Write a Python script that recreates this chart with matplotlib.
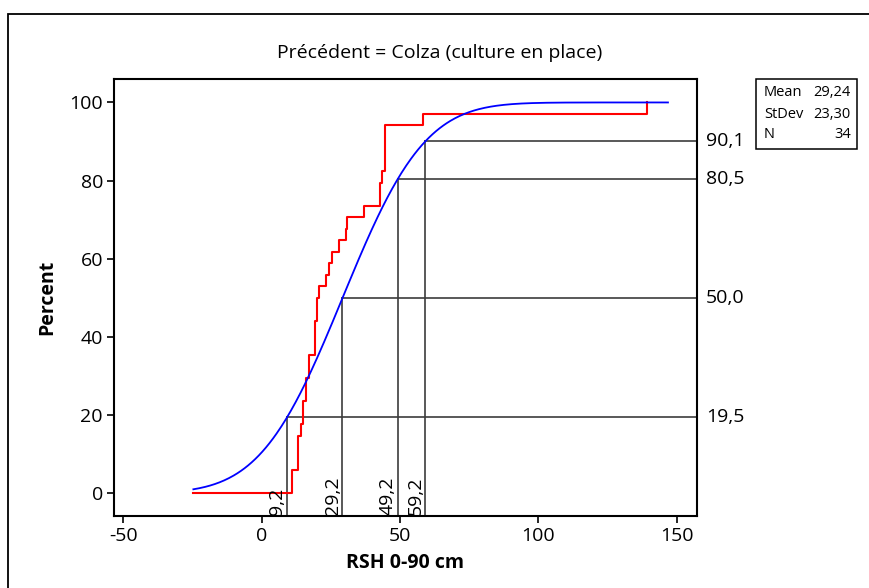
import math

import matplotlib
matplotlib.use("Agg")
import matplotlib.pyplot as plt
from matplotlib.patches import Rectangle

plt.rcParams["font.family"] = ["Open Sans", "DejaVu Sans"]
plt.rcParams["axes.unicode_minus"] = False

# Observed RSH 0-90 cm values (n = 34), sorted
rsh_values = [10.9, 10.9, 13.2, 13.2, 13.2, 14.1, 15.0, 15.0, 16.0, 16.0,
              17.0, 17.0, 19.3, 19.3, 19.3, 19.9, 19.9, 20.8, 23.1, 24.2,
              25.3, 28.1, 30.4, 30.7, 36.9, 42.9, 42.9, 43.5, 44.5, 44.5,
              44.5, 44.5, 58.3, 139.4]
mean_rsh = 29.24
stdev_rsh = 23.30
n_obs = 34

# Plotted range of the fitted curve
x_start = -24.7
x_end = 146.9

# Reference percentiles of the fitted normal
ref_x = [9.2, 29.2, 49.2, 59.2]
ref_pct = [19.5, 50.0, 80.5, 90.1]
ref_x_labels = ["9,2", "29,2", "49,2", "59,2"]
ref_pct_labels = ["19,5", "50,0", "80,5", "90,1"]

x_ticks = [-50, 0, 50, 100, 150]
y_ticks = [0, 20, 40, 60, 80, 100]
x_lim = (-53.4, 157.4)
y_lim = (-5.8, 106.0)

W, H = 870, 588
fig = plt.figure(figsize=(W / 100, H / 100), dpi=100)
ax = fig.add_axes([114 / W, 1 - 516 / H, (697 - 114) / W, (516 - 79) / H])

# empirical CDF as a step line
step_x = [x_start]
step_y = [0.0]
count = 0
for v in sorted(set(rsh_values)):
    count += rsh_values.count(v)
    step_x.append(v)
    step_y.append(100.0 * count / len(rsh_values))

# fitted normal CDF
n_pts = 400
curve_x = [x_start + (x_end - x_start) * i / (n_pts - 1) for i in range(n_pts)]
curve_y = [50.0 * (1 + math.erf((x - mean_rsh) / (stdev_rsh * math.sqrt(2))))
           for x in curve_x]

ref_color = "#3c3c3c"
for xv, pv in zip(ref_x, ref_pct):
    ax.plot([xv, xv], [y_lim[0], pv], color=ref_color, lw=1.2, zorder=1)
    ax.plot([xv, x_lim[1]], [pv, pv], color=ref_color, lw=1.2, zorder=1)

ax.step(step_x, step_y, where="post", color="#ff0000", lw=1.5, zorder=2)
ax.plot(curve_x, curve_y, color="#0000ff", lw=1.3, zorder=3)

for xv, lab in zip(ref_x, ref_x_labels):
    ax.text(xv - 0.3, y_lim[0] + 0.3, lab, rotation=90, ha="right", va="bottom",
            fontsize=14, color="black")
for pv, lab in zip(ref_pct, ref_pct_labels):
    ax.text(1.015, (pv - y_lim[0]) / (y_lim[1] - y_lim[0]), lab,
            transform=ax.transAxes, ha="left", va="center", fontsize=14)

ax.set_xlim(*x_lim)
ax.set_ylim(*y_lim)
ax.set_xticks(x_ticks)
ax.set_yticks(y_ticks)
ax.tick_params(direction="out", length=5, width=1.2, labelsize=14, pad=3,
               top=False, right=False)
for sp in ax.spines.values():
    sp.set_linewidth(1.5)

ax.set_xlabel("RSH 0-90 cm", fontsize=14, fontweight="bold", labelpad=6)
ax.set_ylabel("Percent", fontsize=14, fontweight="bold", labelpad=9)

fig.text(440 / W, 1 - 53 / H, "Précédent = Colza (culture en place)",
         ha="center", va="center", fontsize=14)

# summary box
fig.patches.append(Rectangle((756 / W, 1 - 149 / H), 101 / W, 70 / H,
                             transform=fig.transFigure, fill=False,
                             lw=1.1, edgecolor="black"))
box_rows = [("Mean", f"{mean_rsh:.2f}".replace(".", ",")),
            ("StDev", f"{stdev_rsh:.2f}".replace(".", ",")),
            ("N", str(n_obs))]
for i, (name, val) in enumerate(box_rows):
    y = 1 - (93 + 21 * i) / H
    fig.text(764 / W, y, name, ha="left", va="center", fontsize=10.5)
    fig.text(851 / W, y, val, ha="right", va="center", fontsize=10.5)

# page border
fig.patches.append(Rectangle((8 / W, -0.1), 1.2, 0.1 + 1 - 14 / H,
                             transform=fig.transFigure, fill=False,
                             lw=1.3, edgecolor="black"))

fig.savefig("out.png", dpi=100)
